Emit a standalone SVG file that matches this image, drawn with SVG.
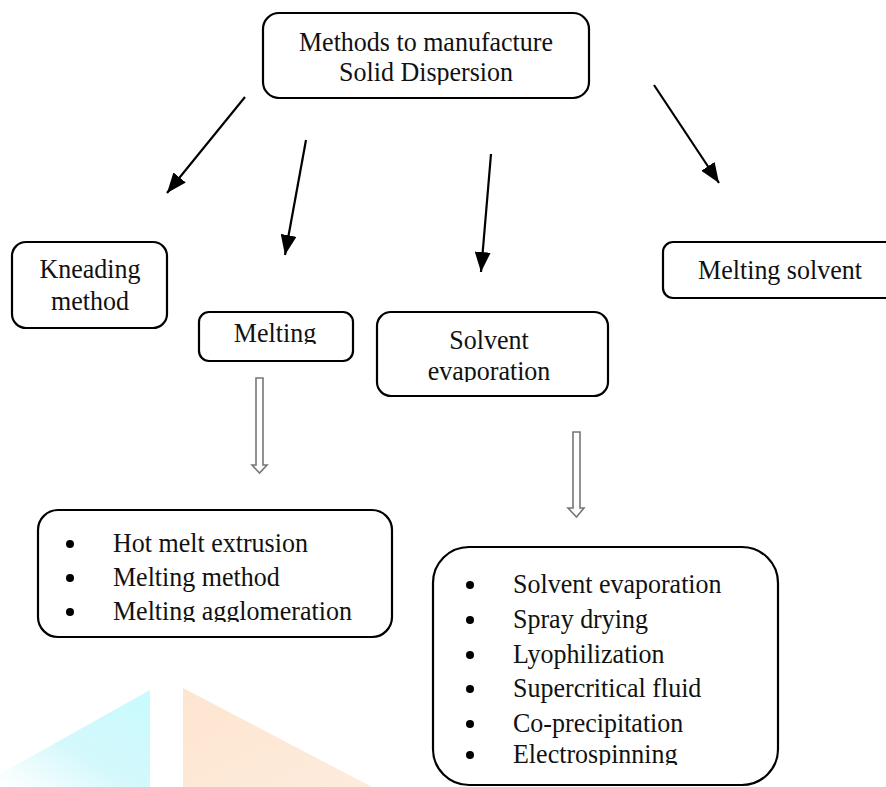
<svg xmlns="http://www.w3.org/2000/svg" width="886" height="787" viewBox="0 0 886 787">
<style>
.box{fill:#fff;stroke:#000;stroke-width:2.2}
.t{font-family:"Liberation Serif","Times New Roman",serif;font-size:26px;fill:#111}
.c{text-anchor:middle}
.conn{stroke:#000;stroke-width:2.2;fill:none}
.hollow{fill:#fff;stroke:#777;stroke-width:1.6}
.dot{fill:#000}
</style>
<defs>
<marker id="ahb" viewBox="0 0 20 16" refX="20" refY="8" markerWidth="20" markerHeight="16" markerUnits="userSpaceOnUse" orient="auto">
<path d="M0,0 L20,8 L0,16 z" fill="#000"/>
</marker>
<linearGradient id="gc" x1="0" y1="1" x2="1" y2="0">
<stop offset="0" stop-color="#ffffff"/>
<stop offset="0.45" stop-color="#d4f8fb"/>
<stop offset="1" stop-color="#c8fbff"/>
</linearGradient>
<linearGradient id="go" x1="0" y1="0" x2="1" y2="1">
<stop offset="0" stop-color="#fde6d0"/>
<stop offset="1" stop-color="#fdebdc"/>
</linearGradient>
<clipPath id="c1"><rect x="263" y="13" width="326" height="72"/></clipPath>
<clipPath id="c2"><rect x="199" y="312" width="154" height="32"/></clipPath>
<clipPath id="c3"><rect x="377" y="312" width="231" height="70"/></clipPath>
<clipPath id="c4"><rect x="38" y="510" width="354" height="112"/></clipPath>
<clipPath id="c5"><rect x="433" y="547" width="345" height="218"/></clipPath>
</defs>

<g id="watermark">
<polygon points="150,690 150,787 0,787 0,774" fill="url(#gc)"/>
<polygon points="183,688 183,787 372,787" fill="url(#go)"/>
</g>

<g id="connectors">
<line class="conn" x1="245" y1="97" x2="167" y2="193" marker-end="url(#ahb)"/>
<line class="conn" x1="306" y1="140" x2="285" y2="255" marker-end="url(#ahb)"/>
<line class="conn" x1="491" y1="154" x2="481" y2="272" marker-end="url(#ahb)"/>
<line class="conn" x1="654" y1="85" x2="719" y2="183" marker-end="url(#ahb)"/>
<path class="hollow" d="M256,378 H263 V465 H267 L259.5,473 L252,465 H256 Z"/>
<path class="hollow" d="M573,432 H580 V508 H584 L576.5,517 L568,508 H573 Z"/>
</g>

<g id="top">
<rect class="box" x="263" y="13" width="326" height="85" rx="16"/>
<g clip-path="url(#c1)">
<text class="t c" transform="translate(426,51) scale(1,1.08)">Methods to manufacture</text>
<text class="t c" transform="translate(426,81) scale(1,1.08)">Solid Dispersion</text>
</g>
</g>

<g id="kneading">
<rect class="box" x="12" y="242" width="155" height="86" rx="14"/>
<text class="t c" transform="translate(90,278) scale(1,1.08)">Kneading</text>
<text class="t c" transform="translate(90,310) scale(1,1.08)">method</text>
</g>

<g id="melting">
<rect class="box" x="199" y="312" width="154" height="49" rx="10"/>
<g clip-path="url(#c2)">
<text class="t c" transform="translate(275,342) scale(1,1.08)">Melting</text>
</g>
</g>

<g id="solvent">
<rect class="box" x="377" y="312" width="231" height="84" rx="14"/>
<g clip-path="url(#c3)">
<text class="t c" transform="translate(489,349) scale(1,1.08)">Solvent</text>
<text class="t c" transform="translate(489,380) scale(1,1.08)">evaporation</text>
</g>
</g>

<g id="meltingsolvent">
<rect class="box" x="663" y="242" width="260" height="56" rx="10"/>
<text class="t c" transform="translate(780,279) scale(1,1.08)">Melting solvent</text>
</g>

<g id="meltlist">
<rect class="box" x="38" y="510" width="354" height="127" rx="20"/>
<g clip-path="url(#c4)">
<circle class="dot" cx="70" cy="544" r="4"/>
<circle class="dot" cx="70" cy="578" r="4"/>
<circle class="dot" cx="70" cy="612" r="4"/>
<text class="t" transform="translate(113,552) scale(1,1.08)">Hot melt extrusion</text>
<text class="t" transform="translate(113,586) scale(1,1.08)">Melting method</text>
<text class="t" transform="translate(113,620) scale(1,1.08)">Melting agglomeration</text>
</g>
</g>

<g id="solventlist">
<rect class="box" x="433" y="547" width="345" height="238" rx="36"/>
<g clip-path="url(#c5)">
<circle class="dot" cx="470" cy="585" r="4"/>
<circle class="dot" cx="470" cy="620" r="4"/>
<circle class="dot" cx="470" cy="655" r="4"/>
<circle class="dot" cx="470" cy="689" r="4"/>
<circle class="dot" cx="470" cy="724" r="4"/>
<circle class="dot" cx="470" cy="755" r="4"/>
<text class="t" transform="translate(513,593) scale(1,1.08)">Solvent evaporation</text>
<text class="t" transform="translate(513,628) scale(1,1.08)">Spray drying</text>
<text class="t" transform="translate(513,663) scale(1,1.08)">Lyophilization</text>
<text class="t" transform="translate(513,697) scale(1,1.08)">Supercritical fluid</text>
<text class="t" transform="translate(513,732) scale(1,1.08)">Co-precipitation</text>
<text class="t" transform="translate(513,763) scale(1,1.08)">Electrospinning</text>
</g>
</g>
</svg>
